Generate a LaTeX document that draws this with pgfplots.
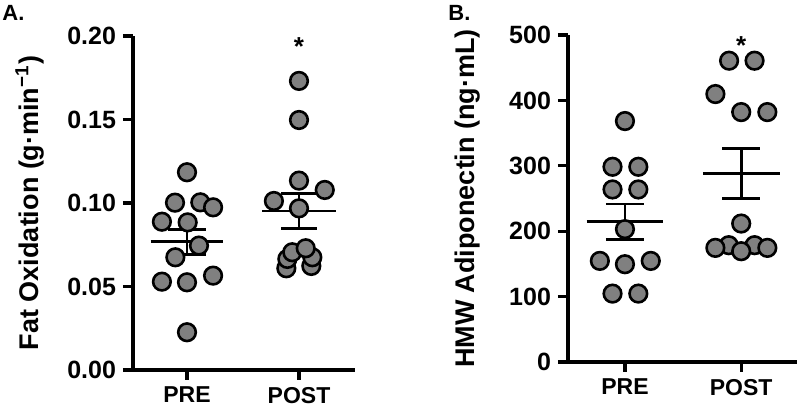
\documentclass[border=0pt]{standalone}
\usepackage{pgfplots}
\pgfplotsset{compat=1.18}
\usepackage{fontspec}
\setmainfont{Liberation Sans}
\definecolor{dotgray}{RGB}{128,128,128}

\pgfplotsset{
  panel/.style={
    scale only axis,
    axis lines=left,
    axis line style={-, line width=1.6pt},
    tick align=outside,
    major tick length=5pt,
    every tick/.style={black, line width=1.6pt},
    xtick={1,2}, xticklabels={PRE,POST},
    /pgf/number format/assume math mode=true,
    yticklabel style={font=\bfseries\fontsize{12.5}{14}\selectfont},
    xticklabel style={font=\bfseries\fontsize{11.5}{14}\selectfont},
    ylabel style={font=\bfseries\fontsize{13.5}{16}\selectfont, anchor=center},
    clip=false,
  },
  dots/.style={only marks, mark=*, mark size=4.4pt,
    mark options={fill=dotgray, draw=black, line width=1.3pt}},
  sem/.style={black, line width=1.35pt, no marks},
}

\begin{document}
\begin{tikzpicture}
\useasboundingbox (0,0) rectangle (400pt,202.5pt);

% A. fat oxidation
\begin{axis}[panel,
  at={(66.5pt,17.5pt)}, anchor=south west,
  width=111pt, height=167pt,
  xmin=0.518, xmax=2.5, ymin=0, ymax=0.20,
  ytick={0,0.05,0.10,0.15,0.20},
  yticklabel style={/pgf/number format/.cd, fixed, fixed zerofill, precision=2},
  ylabel={Fat Oxidation (g·min\textsuperscript{−1})},
  ylabel style={at={(axis description cs:-0.464,0.5)}},
  ]
  \addplot[dots] coordinates {
    (1.000,0.1184) (0.893,0.1002) (1.119,0.1004) (1.233,0.0974)
    (0.776,0.0888) (1.006,0.0884) (1.107,0.0745) (0.896,0.0675)
    (0.776,0.0529) (1.000,0.0525) (1.233,0.0565) (1.000,0.0226)
  };
  \addplot[dots] coordinates {
    (2.000,0.1731) (2.000,0.1497) (2.000,0.1134) (2.230,0.1078)
    (1.776,0.1012) (2.000,0.0968) (1.887,0.0609) (2.110,0.0623)
    (1.896,0.0665) (2.119,0.0675) (1.940,0.0705) (2.060,0.0729)
  };
  % mean +- SEM
  \addplot[sem] coordinates {(0.675,0.0768) (1.325,0.0768)};
  \addplot[sem] coordinates {(1,0.0693) (1,0.0843)};
  \addplot[sem] coordinates {(0.83,0.0843) (1.17,0.0843)};
  \addplot[sem] coordinates {(0.83,0.0693) (1.17,0.0693)};
  \addplot[sem] coordinates {(1.67,0.0952) (2.33,0.0952)};
  \addplot[sem] coordinates {(2,0.0848) (2,0.1058)};
  \addplot[sem] coordinates {(1.84,0.1058) (2.16,0.1058)};
  \addplot[sem] coordinates {(1.84,0.0848) (2.16,0.0848)};
  \node[anchor=north, inner sep=0, font=\bfseries\fontsize{13}{14}\selectfont]
    at (axis cs:2,0.199) {*};
\end{axis}

% B. HMW adiponectin
\begin{axis}[panel,
  at={(284pt,21.5pt)}, anchor=south west,
  width=114.5pt, height=163.5pt,
  xmin=0.51, xmax=2.48, ymin=0, ymax=500,
  ytick={0,100,200,300,400,500},
  ylabel={HMW Adiponectin (ng·mL)},
  ylabel style={at={(axis description cs:-0.437,0.5)}},
  ]
  \addplot[dots] coordinates {
    (1.000,368.4) (0.893,298.5) (1.115,298.5) (0.893,263.8)
    (1.115,263.8) (1.000,203.1) (0.784,154.6) (1.000,149.5)
    (1.222,154.6) (0.893,104.6) (1.115,104.6)
  };
  \addplot[dots] coordinates {
    (1.896,460.7) (2.115,460.7) (1.778,409.7) (2.000,382.1)
    (2.225,382.1) (2.000,211.7) (1.893,178.6) (2.115,178.6)
    (1.778,174.5) (2.225,174.5) (2.000,169.4)
  };
  \addplot[sem] coordinates {(0.67,215.3) (1.33,215.3)};
  \addplot[sem] coordinates {(1,187.8) (1,241.8)};
  \addplot[sem] coordinates {(0.836,241.8) (1.164,241.8)};
  \addplot[sem] coordinates {(0.836,187.8) (1.164,187.8)};
  \addplot[sem] coordinates {(1.67,288.3) (2.33,288.3)};
  \addplot[sem] coordinates {(2,250) (2,326.5)};
  \addplot[sem] coordinates {(1.836,326.5) (2.164,326.5)};
  \addplot[sem] coordinates {(1.836,250) (2.164,250)};
  \node[anchor=north, inner sep=0, font=\bfseries\fontsize{13}{14}\selectfont]
    at (axis cs:2,498) {*};
\end{axis}

\node[anchor=north west, inner sep=0, font=\bfseries\fontsize{11}{12}\selectfont]
  at (1pt,200pt) {A.};
\node[anchor=north west, inner sep=0, font=\bfseries\fontsize{11}{12}\selectfont]
  at (224pt,200pt) {B.};
\end{tikzpicture}
\end{document}
